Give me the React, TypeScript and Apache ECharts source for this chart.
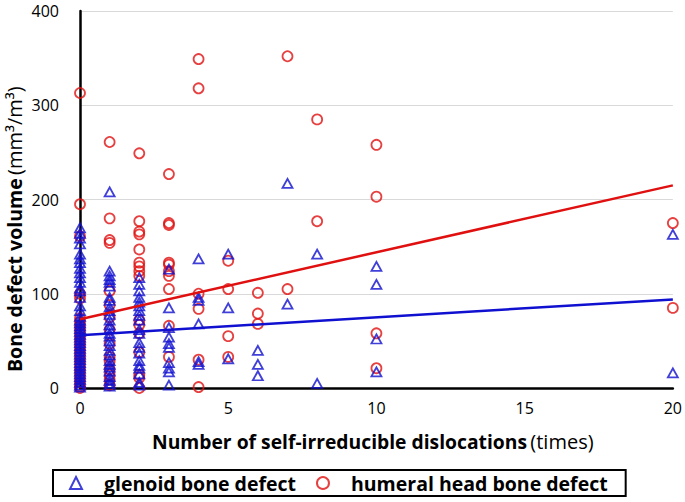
import React, { useEffect, useRef } from "react";
import * as echarts from "echarts";

// Glenoid bone defect (blue triangles): volumes at each dislocation count
const glenoidX0 = [170, 164, 159, 153, 142, 137, 133, 127, 122, 117, 112, 106, 103, 96, 87, 82, 76, 72, 69, 66, 63, 60, 57, 54, 51, 48, 45, 42, 39, 36, 33, 30, 27, 24, 21, 18, 15, 12, 9, 6, 3, 1];
const glenoidX1 = [208, 124, 119, 115, 112, 108, 96, 93, 86, 82, 78, 72, 67, 63, 58, 55, 50, 45, 40, 35, 29, 25, 22, 18, 12, 8, 5, 2];
const glenoidX2 = [117, 110, 103, 96, 91, 87, 82, 77, 72, 62, 58, 48, 43, 37, 29, 24, 21, 15, 6, 3];
const glenoidX3 = [126, 85, 64, 54, 47, 43, 27, 21, 17, 3];
const glenoidX4 = [137, 96, 93, 68, 28, 25];
const glenoidX5 = [142, 85, 31];
const glenoidX6 = [40, 25, 13];
const glenoidX7 = [217, 89];
const glenoidX8 = [142, 5];
const glenoidX10 = [129, 110, 52, 17];
const glenoidX20 = [163, 16];

// Humeral head bone defect (red circles)
const humeralX0 = [313, 195, 161, 100, 95, 74, 70, 66, 62, 58, 54, 50, 46, 42, 38, 34, 30, 26, 22, 18, 14, 10, 6, 2, 0];
const humeralX1 = [261, 180, 157, 154, 103, 88, 75, 62, 47, 33, 28, 20, 14, 9, 3];
const humeralX2 = [249, 177, 166, 163, 147, 133, 129, 124, 119, 72, 67, 58, 38, 14, 11, 0];
const humeralX3 = [227, 175, 173, 133, 131, 124, 119, 105, 66, 33];
const humeralX4 = [349, 318, 100, 84, 30, 1];
const humeralX5 = [135, 105, 55, 33];
const humeralX6 = [101, 79, 68];
const humeralX7 = [352, 105];
const humeralX8 = [285, 177];
const humeralX10 = [258, 203, 58, 21];
const humeralX20 = [175, 85];

// Linear trend lines (endpoints)
const glenoidTrend = [[0, 56], [20, 94]];
const humeralTrend = [[0, 73], [20, 215]];

const yTicks = [0, 100, 200, 300, 400];
const xTicks = [0, 5, 10, 15, 20];

function toPoints(groups: [number, number[]][]) {
  const pts: number[][] = [];
  groups.forEach(([x, ys]) => ys.forEach((y) => pts.push([x, y])));
  return pts;
}

const glenoidData = toPoints([
  [0, glenoidX0], [1, glenoidX1], [2, glenoidX2], [3, glenoidX3], [4, glenoidX4],
  [5, glenoidX5], [6, glenoidX6], [7, glenoidX7], [8, glenoidX8], [10, glenoidX10], [20, glenoidX20],
]);
const humeralData = toPoints([
  [0, humeralX0], [1, humeralX1], [2, humeralX2], [3, humeralX3], [4, humeralX4],
  [5, humeralX5], [6, humeralX6], [7, humeralX7], [8, humeralX8], [10, humeralX10], [20, humeralX20],
]);

const BLUE = "#1010d0";
const RED = "#e01010";
const FONT = "'Open Sans', Lato, sans-serif";

export default function App() {
  const ref = useRef<HTMLDivElement>(null);
  useEffect(() => {
    if (!ref.current) return;
    const chart = echarts.init(ref.current, undefined, { renderer: "svg" });
    chart.setOption({
      animation: false,
      backgroundColor: "#fff",
      textStyle: { fontFamily: FONT },
      grid: { left: 80, right: 11, top: 11, bottom: 114, containLabel: false },
      xAxis: {
        type: "value",
        min: xTicks[0],
        max: xTicks[xTicks.length - 1],
        interval: 5,
        axisLine: { show: true, lineStyle: { color: "#000", width: 2.5 } },
        axisTick: { show: false },
        splitLine: { show: false },
        axisLabel: { color: "#000", fontSize: 16, margin: 12, fontFamily: FONT },
      },
      yAxis: {
        type: "value",
        min: yTicks[0],
        max: yTicks[yTicks.length - 1],
        interval: 100,
        axisLine: { show: true, lineStyle: { color: "#000", width: 2.5 } },
        axisTick: { show: false },
        splitLine: { show: true, lineStyle: { color: "#d9d9d9", width: 1 } },
        axisLabel: { color: "#000", fontSize: 16, lineHeight: 15, margin: 21, fontFamily: FONT },
      },
      graphic: [
        {
          type: "text",
          x: 14,
          y: 372,
          rotation: Math.PI / 2,
          style: {
            text: "{b|Bone defect volume} {n|(mm³/m³)}",
            align: "left",
            verticalAlign: "middle",
            rich: {
              b: { fontSize: 19.5, fontWeight: "bold", fill: "#000", fontFamily: FONT },
              n: { fontSize: 20, fill: "#000", fontFamily: FONT },
            },
          },
        },
        {
          type: "text",
          x: 152,
          y: 441,
          style: {
            text: "{b|Number of self-irreducible dislocations} {n|(times)}",
            align: "left",
            verticalAlign: "middle",
            rich: {
              b: { fontSize: 19.3, fontWeight: "bold", fill: "#000", fontFamily: FONT },
              n: { fontSize: 20, fill: "#000", fontFamily: FONT },
            },
          },
        },
      ],
      legend: {
        data: ["glenoid bone defect", "humeral head bone defect"],
        left: 53,
        top: 470,
        orient: "horizontal",
        borderColor: "#000",
        borderWidth: 2,
        borderRadius: 0,
        padding: [3, 18, 3, 16],
        itemGap: 20,
        itemWidth: 12,
        itemHeight: 12,
        textStyle: { fontSize: 19.5, fontWeight: "bold", color: "#000", fontFamily: FONT, padding: [0, 0, 0, 17] },
      },
      series: [
        {
          name: "glenoid bone defect",
          type: "scatter",
          symbol: "triangle",
          symbolSize: [10, 9],
          data: glenoidData,
          itemStyle: { color: "rgba(0,0,0,0)", borderColor: BLUE, borderWidth: 1.8 },
          z: 3,
        },
        {
          name: "humeral head bone defect",
          type: "scatter",
          symbol: "circle",
          symbolSize: 10,
          data: humeralData,
          itemStyle: { color: "rgba(0,0,0,0)", borderColor: RED, borderWidth: 1.8 },
          z: 2,
        },
        {
          name: "humeral trend",
          type: "line",
          data: humeralTrend,
          symbol: "none",
          lineStyle: { color: RED, width: 2.5 },
          z: 5,
        },
        {
          name: "glenoid trend",
          type: "line",
          data: glenoidTrend,
          symbol: "none",
          lineStyle: { color: BLUE, width: 2.5 },
          z: 5,
        },
      ],
    });
    return () => chart.dispose();
  }, []);
  return <div ref={ref} style={{ width: 685, height: 502, position: "absolute", left: 0, top: 0 }} />;
}
